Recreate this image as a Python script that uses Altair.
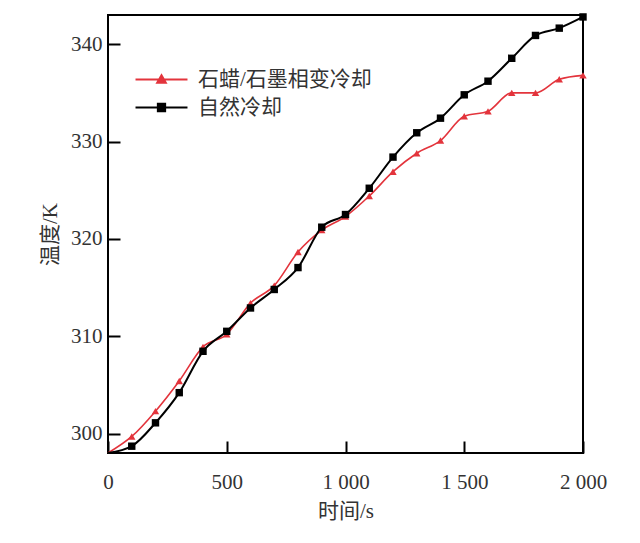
import altair as alt
import pandas as pd

time_s = [0, 100, 200, 300, 400, 500, 600, 700, 800, 900, 1000,
          1100, 1200, 1300, 1400, 1500, 1600, 1700, 1800, 1900, 2000]
pcm_cooling = [298.0, 299.7, 302.3, 305.4, 308.9, 310.2, 313.4, 315.2, 318.65, 320.9, 322.3,
               324.4, 326.9, 328.8, 330.1, 332.6, 333.1, 335.0, 335.0, 336.4, 336.8]
natural_cooling = [298.0, 298.7, 301.1, 304.2, 308.45, 310.5, 312.9, 314.8, 317.05, 321.2, 322.5,
                   325.2, 328.4, 330.9, 332.4, 334.8, 336.2, 338.55, 340.9, 341.65, 342.8]
series_names = ["石蜡/石墨相变冷却", "自然冷却"]
x_ticks = [0, 500, 1000, 1500, 2000]
y_ticks = [300, 310, 320, 330, 340]

colors = ["#e3343c", "#000000"]
line_widths = [1.6, 2]
marker_shapes = ["triangle-up", "square"]
legend_paths = ["M-3,0H3M0,-0.5L0.5,0.38H-0.5Z", "M-3,0H3M-0.42,-0.42H0.42V0.42H-0.42Z"]

rows = []
for name, vals in zip(series_names, [pcm_cooling, natural_cooling]):
    for t, v in zip(time_s, vals):
        rows.append({"t": t, "T": v, "series": name})
df = pd.DataFrame(rows)

FONT = "Liberation Serif, Noto Sans CJK SC"
TXT = "#333333"
FS = 21

x_enc = alt.X("t:Q", scale=alt.Scale(domain=[0, 2000], nice=False, zero=False),
              axis=alt.Axis(values=x_ticks, title="时间/s", grid=False, domain=False,
                            offset=-12, tickSize=12, tickWidth=2, tickColor="black",
                            labelPadding=18, labelFont=FONT, labelFontSize=FS, labelColor=TXT,
                            labelFlush=False, labelOverlap=False,
                            labelExpr="replace(format(datum.value, ','), ',', ' ')",
                            titleFont=FONT, titleFontSize=FS, titleFontWeight="normal",
                            titleColor=TXT, titlePadding=8))
y_enc = alt.Y("T:Q", scale=alt.Scale(domain=[298, 343], nice=False, zero=False),
              axis=alt.Axis(values=y_ticks, title="温度/K", grid=False, domain=False,
                            offset=-12, tickSize=12, tickWidth=2, tickColor="black",
                            labelPadding=6, labelFont=FONT, labelFontSize=FS, labelColor=TXT,
                            labelFlush=False, labelOverlap=False,
                            titleFont=FONT, titleFontSize=FS, titleFontWeight="normal",
                            titleColor=TXT, titlePadding=10))

base = alt.Chart(df)
layers = []
for name, c, lw, shp in zip(series_names, colors, line_widths, marker_shapes):
    sub = base.transform_filter(alt.datum.series == name)
    layers.append(sub.mark_line(interpolate="monotone", color=c, strokeWidth=lw).encode(x=x_enc, y=y_enc))
    layers.append(sub.transform_filter(alt.datum.t > 0)
                  .mark_point(shape=shp, filled=True, color=c, size=55, opacity=1)
                  .encode(x=x_enc, y=y_enc))

leg = alt.Legend(orient="none", legendX=43, legendY=54, title=None, padding=0,
                 labelOffset=26, rowPadding=6, symbolSize=300, symbolStrokeWidth=2,
                 labelFont=FONT, labelFontSize=FS, labelColor=TXT, labelLimit=0)
color_scale = alt.Scale(domain=series_names, range=colors)
legend_layer = base.transform_filter("datum.t < 0").mark_point(filled=True, opacity=1, size=300, strokeWidth=2).encode(
    shape=alt.Shape("series:N", scale=alt.Scale(domain=series_names, range=legend_paths), legend=leg),
    fill=alt.Fill("series:N", scale=color_scale, legend=leg),
    stroke=alt.Stroke("series:N", scale=color_scale, legend=leg),
)
layers.append(legend_layer)

chart = alt.layer(*layers).properties(
    width=475, height=438,
    autosize=alt.AutoSizeParams(type="none"),
    padding={"left": 100, "top": 7, "right": 49, "bottom": 75},
).configure_view(stroke="black", strokeWidth=2)

chart.save("out.html", embed_options={"renderer": "svg", "actions": False})
